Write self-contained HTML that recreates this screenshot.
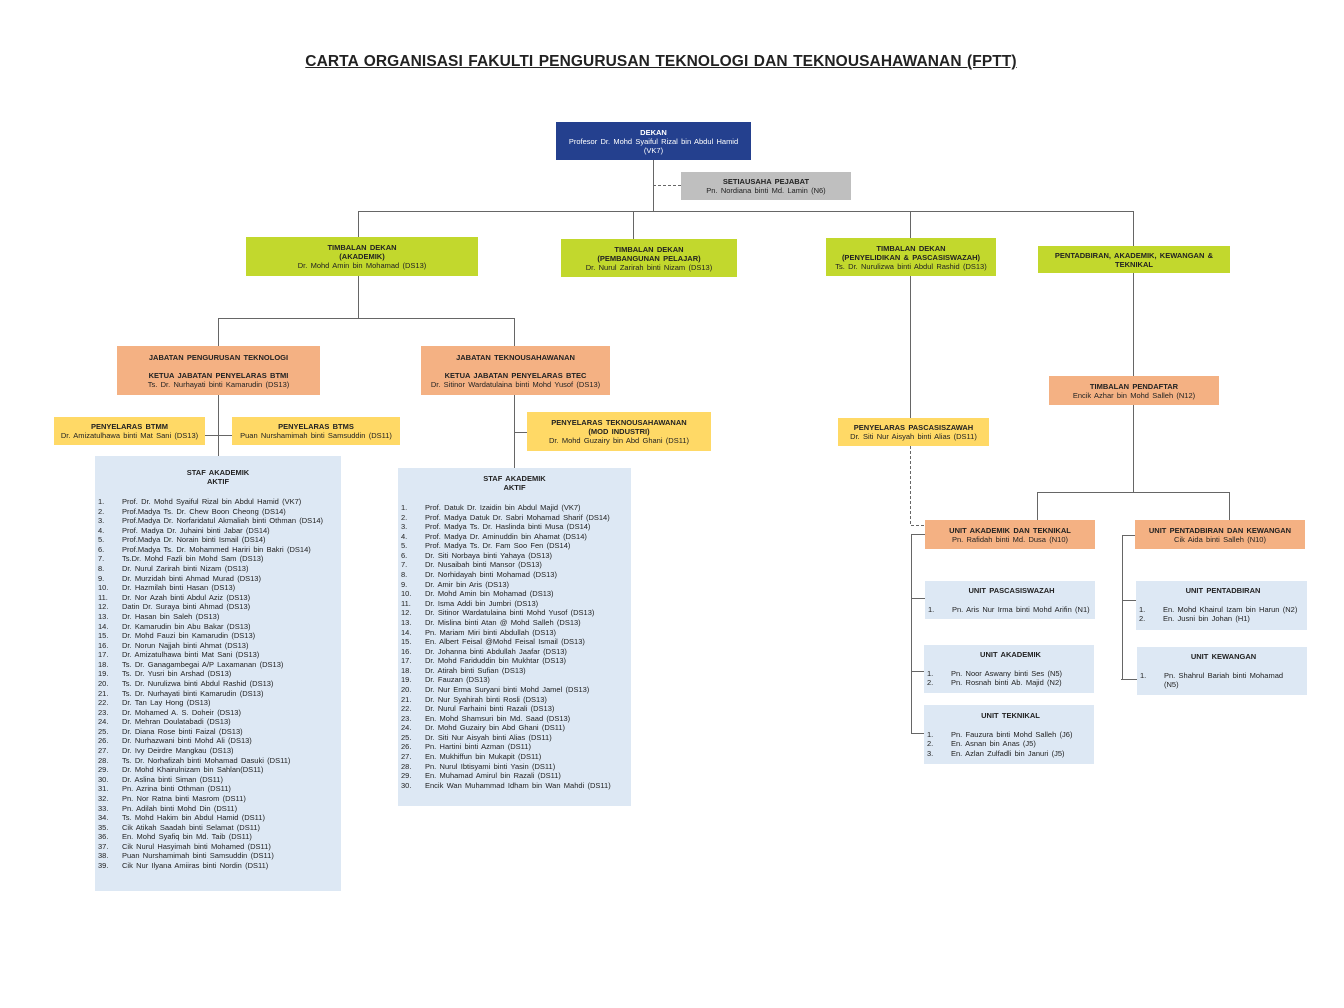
<!DOCTYPE html>
<html><head><meta charset="utf-8"><style>
*{margin:0;padding:0;box-sizing:border-box}
body{width:1344px;height:1008px;background:#fff;position:relative;overflow:hidden;font-family:"Liberation Sans",Arial,sans-serif;color:#222;word-spacing:1.2px}
.b{position:absolute;text-align:center;font-size:7.5px;line-height:9px;display:flex;flex-direction:column;justify-content:center;align-items:center;white-space:nowrap}
.b b{font-weight:bold}
.bl{background:#24408e;color:#fff}
.gr{background:#bfbfbf}
.gn{background:#c2d82d}
.or{background:#f4b183}
.ye{background:#ffd966}
.st{position:absolute;background:#dde8f4;font-size:7.5px}
.st .h{text-align:center;font-weight:bold;line-height:9px}
.li{position:absolute;left:0;right:0;}
.li div{height:9.58px;line-height:9.58px;white-space:nowrap}
.li span{display:inline-block;width:24px}
.u{position:absolute;background:#dde8f4;font-size:7.5px;line-height:9.5px;white-space:nowrap}
.u .h{text-align:center;font-weight:bold}
.u span{display:inline-block;width:24px}
h1{position:absolute;left:0;width:1322px;top:53px;text-align:center;font-size:15.5px;font-weight:bold;text-decoration:underline;word-spacing:1px;letter-spacing:0.1px}
</style></head><body>
<h1>CARTA ORGANISASI FAKULTI PENGURUSAN TEKNOLOGI DAN TEKNOUSAHAWANAN (FPTT)</h1>
<svg width="1344" height="1008" style="position:absolute;left:0;top:0" stroke="#666" stroke-width="1" fill="none">
<path d="M653.5 160V211M358.5 211.5H1133.5M358.5 211V237M633.5 211V239M910.5 211V238M1133.5 211V246"/>
<path d="M653 185.5H681" stroke-dasharray="3,2"/>
<path d="M358.5 276V318M218.5 318.5H514.5M218.5 318V346M514.5 318V346"/>
<path d="M218.5 395V456M205 435.5H232M514.5 395V468M514 432.5H527"/>
<path d="M910.5 276V418"/>
<path d="M910.5 446V525.5H925" stroke-dasharray="3,2"/>
<path d="M1133.5 273V376M1133.5 405V492M1037.5 492.5H1229.5M1037.5 492V520M1229.5 492V520"/>
<path d="M911.5 534V733M911 534.5H925M911 598.5H925M911 671.5H924M911 733.5H924"/>
<path d="M1122.5 535V679M1122 535.5H1135M1122 600.5H1136M1121 679.5H1137"/>
</svg>
<div class="b bl" style="left:556px;top:122px;width:195px;height:38px"><b>DEKAN</b>Profesor Dr. Mohd Syaiful Rizal bin Abdul Hamid<br>(VK7)</div>
<div class="b gr" style="left:681px;top:172px;width:170px;height:28px"><b>SETIAUSAHA PEJABAT</b>Pn. Nordiana binti Md. Lamin (N6)</div>
<div class="b gn" style="left:246px;top:237px;width:232px;height:39px"><b>TIMBALAN DEKAN<br>(AKADEMIK)</b>Dr. Mohd Amin bin Mohamad (DS13)</div>
<div class="b gn" style="left:561px;top:239px;width:176px;height:38px"><b>TIMBALAN DEKAN<br>(PEMBANGUNAN PELAJAR)</b>Dr. Nurul Zarirah binti Nizam (DS13)</div>
<div class="b gn" style="left:826px;top:238px;width:170px;height:38px"><b>TIMBALAN DEKAN<br>(PENYELIDIKAN &amp; PASCASISWAZAH)</b>Ts. Dr. Nurulizwa binti Abdul Rashid (DS13)</div>
<div class="b gn" style="left:1038px;top:246px;width:192px;height:27px"><b>PENTADBIRAN, AKADEMIK, KEWANGAN &amp;<br>TEKNIKAL</b></div>
<div class="b or" style="left:117px;top:346px;width:203px;height:49px"><b>JABATAN PENGURUSAN TEKNOLOGI</b><br><b>KETUA JABATAN PENYELARAS BTMI</b>Ts. Dr. Nurhayati binti Kamarudin (DS13)</div>
<div class="b or" style="left:421px;top:346px;width:189px;height:49px"><b>JABATAN TEKNOUSAHAWANAN</b><br><b>KETUA JABATAN PENYELARAS BTEC</b>Dr. Sitinor Wardatulaina binti Mohd Yusof (DS13)</div>
<div class="b ye" style="left:54px;top:417px;width:151px;height:28px"><b>PENYELARAS BTMM</b>Dr. Amizatulhawa binti Mat Sani (DS13)</div>
<div class="b ye" style="left:232px;top:417px;width:168px;height:28px"><b>PENYELARAS BTMS</b>Puan Nurshamimah binti Samsuddin (DS11)</div>
<div class="b ye" style="left:527px;top:412px;width:184px;height:39px"><b>PENYELARAS TEKNOUSAHAWANAN<br>(MOD INDUSTRI)</b>Dr. Mohd Guzairy bin Abd Ghani (DS11)</div>
<div class="b ye" style="left:838px;top:418px;width:151px;height:28px"><b>PENYELARAS PASCASISZAWAH</b>Dr. Siti Nur Aisyah binti Alias (DS11)</div>
<div class="b or" style="left:1049px;top:376px;width:170px;height:29px"><b>TIMBALAN PENDAFTAR</b>Encik Azhar bin Mohd Salleh (N12)</div>
<div class="b or" style="left:925px;top:520px;width:170px;height:29px"><b>UNIT AKADEMIK DAN TEKNIKAL</b>Pn. Rafidah binti Md. Dusa (N10)</div>
<div class="b or" style="left:1135px;top:520px;width:170px;height:29px"><b>UNIT PENTADBIRAN DAN KEWANGAN</b>Cik Aida binti Salleh (N10)</div>

<div class="st" style="left:95px;top:456px;width:246px;height:435px">
<div class="h" style="margin-top:12px">STAF AKADEMIK<br>AKTIF</div>
<div class="li" style="top:41px;left:3px">
<div><span>1.</span>Prof. Dr. Mohd Syaiful Rizal bin Abdul Hamid (VK7)</div>
<div><span>2.</span>Prof.Madya Ts. Dr. Chew Boon Cheong (DS14)</div>
<div><span>3.</span>Prof.Madya Dr. Norfaridatul Akmaliah binti Othman (DS14)</div>
<div><span>4.</span>Prof. Madya Dr. Juhaini binti Jabar (DS14)</div>
<div><span>5.</span>Prof.Madya Dr. Norain binti Ismail (DS14)</div>
<div><span>6.</span>Prof.Madya Ts. Dr. Mohammed Hariri bin Bakri (DS14)</div>
<div><span>7.</span>Ts.Dr. Mohd Fazli bin Mohd Sam (DS13)</div>
<div><span>8.</span>Dr. Nurul Zarirah binti Nizam (DS13)</div>
<div><span>9.</span>Dr. Murzidah binti Ahmad Murad (DS13)</div>
<div><span>10.</span>Dr. Hazmilah binti Hasan (DS13)</div>
<div><span>11.</span>Dr. Nor Azah binti Abdul Aziz (DS13)</div>
<div><span>12.</span>Datin Dr. Suraya binti Ahmad (DS13)</div>
<div><span>13.</span>Dr. Hasan bin Saleh (DS13)</div>
<div><span>14.</span>Dr. Kamarudin bin Abu Bakar (DS13)</div>
<div><span>15.</span>Dr. Mohd Fauzi bin Kamarudin (DS13)</div>
<div><span>16.</span>Dr. Norun Najjah binti Ahmat (DS13)</div>
<div><span>17.</span>Dr. Amizatulhawa binti Mat Sani (DS13)</div>
<div><span>18.</span>Ts. Dr. Ganagambegai A/P Laxamanan (DS13)</div>
<div><span>19.</span>Ts. Dr. Yusri bin Arshad (DS13)</div>
<div><span>20.</span>Ts. Dr. Nurulizwa binti Abdul Rashid (DS13)</div>
<div><span>21.</span>Ts. Dr. Nurhayati binti Kamarudin (DS13)</div>
<div><span>22.</span>Dr. Tan Lay Hong (DS13)</div>
<div><span>23.</span>Dr. Mohamed A. S. Doheir (DS13)</div>
<div><span>24.</span>Dr. Mehran Doulatabadi (DS13)</div>
<div><span>25.</span>Dr. Diana Rose binti Faizal (DS13)</div>
<div><span>26.</span>Dr. Nurhazwani binti Mohd Ali (DS13)</div>
<div><span>27.</span>Dr. Ivy Deirdre Mangkau (DS13)</div>
<div><span>28.</span>Ts. Dr. Norhafizah binti Mohamad Dasuki (DS11)</div>
<div><span>29.</span>Dr. Mohd Khairulnizam bin Sahlan(DS11)</div>
<div><span>30.</span>Dr. Aslina binti Siman (DS11)</div>
<div><span>31.</span>Pn. Azrina binti Othman (DS11)</div>
<div><span>32.</span>Pn. Nor Ratna binti Masrom (DS11)</div>
<div><span>33.</span>Pn. Adilah binti Mohd Din (DS11)</div>
<div><span>34.</span>Ts. Mohd Hakim bin Abdul Hamid (DS11)</div>
<div><span>35.</span>Cik Atikah Saadah binti Selamat (DS11)</div>
<div><span>36.</span>En. Mohd Syafiq bin Md. Taib (DS11)</div>
<div><span>37.</span>Cik Nurul Hasyimah binti Mohamed (DS11)</div>
<div><span>38.</span>Puan Nurshamimah binti Samsuddin (DS11)</div>
<div><span>39.</span>Cik Nur Ilyana Amiiras binti Nordin (DS11)</div>
</div></div>

<div class="st" style="left:398px;top:468px;width:233px;height:338px">
<div class="h" style="margin-top:6px">STAF AKADEMIK<br>AKTIF</div>
<div class="li" style="top:35px;left:3px">
<div><span>1.</span>Prof. Datuk Dr. Izaidin bin Abdul Majid (VK7)</div>
<div><span>2.</span>Prof. Madya Datuk Dr. Sabri Mohamad Sharif (DS14)</div>
<div><span>3.</span>Prof. Madya Ts. Dr. Haslinda binti Musa (DS14)</div>
<div><span>4.</span>Prof. Madya Dr. Aminuddin bin Ahamat (DS14)</div>
<div><span>5.</span>Prof. Madya Ts. Dr. Fam Soo Fen (DS14)</div>
<div><span>6.</span>Dr. Siti Norbaya binti Yahaya (DS13)</div>
<div><span>7.</span>Dr. Nusaibah binti Mansor (DS13)</div>
<div><span>8.</span>Dr. Norhidayah binti Mohamad (DS13)</div>
<div><span>9.</span>Dr. Amir bin Aris (DS13)</div>
<div><span>10.</span>Dr. Mohd Amin bin Mohamad (DS13)</div>
<div><span>11.</span>Dr. Isma Addi bin Jumbri (DS13)</div>
<div><span>12.</span>Dr. Sitinor Wardatulaina binti Mohd Yusof (DS13)</div>
<div><span>13.</span>Dr. Mislina binti Atan @ Mohd Salleh (DS13)</div>
<div><span>14.</span>Pn. Mariam Miri binti Abdullah (DS13)</div>
<div><span>15.</span>En. Albert Feisal @Mohd Feisal Ismail (DS13)</div>
<div><span>16.</span>Dr. Johanna binti Abdullah Jaafar (DS13)</div>
<div><span>17.</span>Dr. Mohd Fariduddin bin Mukhtar (DS13)</div>
<div><span>18.</span>Dr. Atirah binti Sufian (DS13)</div>
<div><span>19.</span>Dr. Fauzan (DS13)</div>
<div><span>20.</span>Dr. Nur Erma Suryani binti Mohd Jamel (DS13)</div>
<div><span>21.</span>Dr. Nur Syahirah binti Rosli (DS13)</div>
<div><span>22.</span>Dr. Nurul Farhaini binti Razali (DS13)</div>
<div><span>23.</span>En. Mohd Shamsuri bin Md. Saad (DS13)</div>
<div><span>24.</span>Dr. Mohd Guzairy bin Abd Ghani (DS11)</div>
<div><span>25.</span>Dr. Siti Nur Aisyah binti Alias (DS11)</div>
<div><span>26.</span>Pn. Hartini binti Azman (DS11)</div>
<div><span>27.</span>En. Mukhiffun bin Mukapit (DS11)</div>
<div><span>28.</span>Pn. Nurul Ibtisyami binti Yasin (DS11)</div>
<div><span>29.</span>En. Muhamad Amirul bin Razali (DS11)</div>
<div><span>30.</span>Encik Wan Muhammad Idham bin Wan Mahdi (DS11)</div>
</div></div>

<div class="u" style="left:925px;top:581px;width:170px;height:38px;padding:5px 0 0 3px"><div class="h">UNIT PASCASISWAZAH</div><div style="margin-top:9px"><span>1.</span>Pn. Aris Nur Irma binti Mohd Arifin (N1)</div></div>
<div class="u" style="left:924px;top:645px;width:170px;height:48px;padding:5px 0 0 3px"><div class="h">UNIT AKADEMIK</div><div style="margin-top:9px"><span>1.</span>Pn. Noor Aswany binti Ses (N5)</div><div><span>2.</span>Pn. Rosnah binti Ab. Majid (N2)</div></div>
<div class="u" style="left:924px;top:705px;width:170px;height:59px;padding:6px 0 0 3px"><div class="h">UNIT TEKNIKAL</div><div style="margin-top:9px"><span>1.</span>Pn. Fauzura binti Mohd Salleh (J6)</div><div><span>2.</span>En. Asnan bin Anas (J5)</div><div><span>3.</span>En. Azlan Zulfadli bin Januri (J5)</div></div>
<div class="u" style="left:1136px;top:581px;width:171px;height:49px;padding:5px 0 0 3px"><div class="h">UNIT PENTADBIRAN</div><div style="margin-top:9px"><span>1.</span>En. Mohd Khairul Izam bin Harun (N2)</div><div><span>2.</span>En. Jusni bin Johan (H1)</div></div>
<div class="u" style="left:1137px;top:647px;width:170px;height:48px;padding:5px 0 0 3px"><div class="h">UNIT KEWANGAN</div><div style="margin-top:9px"><span>1.</span>Pn. Shahrul Bariah binti Mohamad</div><div><span></span>(N5)</div></div>
</body></html>
